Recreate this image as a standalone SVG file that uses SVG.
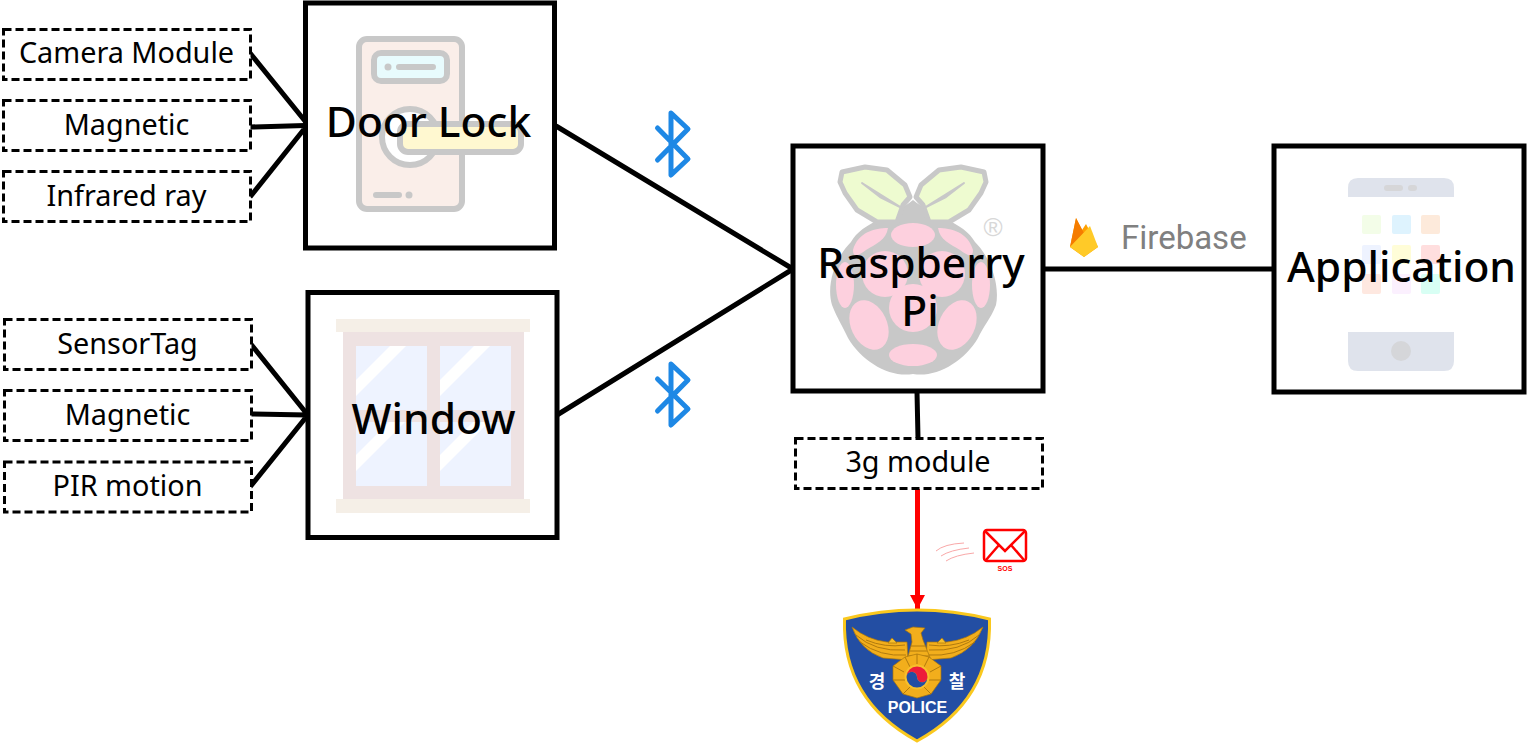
<svg xmlns="http://www.w3.org/2000/svg" width="1540" height="743" viewBox="0 0 1540 743">
<defs>
<style>
.box{fill:#fff;stroke:#000;stroke-width:5}
.dash{fill:#fff;stroke:#000;stroke-width:3;stroke-dasharray:8 4}
.big{font-family:"Noto Sans","Open Sans",sans-serif;font-size:42.500px;font-weight:500;text-anchor:middle;fill:#000}
.small{font-family:"Noto Sans","Open Sans",sans-serif;font-size:28.800px;text-anchor:middle;fill:#000}
.con{stroke:#000;stroke-width:5;fill:none}
.ic{stroke:#c8c8c8;stroke-width:6}
.bt{fill:none;stroke:#1e88e5;stroke-width:5;stroke-linecap:round;stroke-linejoin:round}
.pk{fill:#fdd0de}
.wh{fill:#fff}
.lf{fill:#eefbd0;stroke:#c8c8c8;stroke-width:5;stroke-linejoin:round}
.fe{fill:none;stroke:#a8740c;stroke-width:.9}
.gd{fill:#f2ae1c;stroke:#a8740c;stroke-width:.7}
.kr{font-family:"Noto Sans CJK KR",sans-serif;font-size:18px;font-weight:700;fill:#fff;text-anchor:middle}
</style>
<marker id="ah" markerUnits="userSpaceOnUse" markerWidth="16" markerHeight="16" refX="14" refY="8" orient="auto"><path d="M0 .5L14 8L0 15.500Z" fill="#f00"/></marker>
</defs>
<rect width="1540" height="743" fill="#fff"/>
<g id="connectors">
<path class="con" d="M250 53L305 121M250 127L305 125.500M250 197L305 128"/>
<path class="con" d="M250 343L307 414M250 414L307 415M250 487L307 416"/>
<path class="con" d="M556 126L793 269M557 415L793 269M1043 269H1274M917 392L918 438"/>
<path d="M917.500 489V609" stroke="#f00" stroke-width="5" fill="none" marker-end="url(#ah)"/>
</g>
<g id="door-lock">
<rect class="box" x="305.500" y="3" width="249" height="245"/>
<rect class="ic" x="359" y="39" width="103" height="170" rx="8" fill="#faeee9"/>
<rect class="ic" x="374" y="53" width="73" height="28" rx="7" fill="#e8fbfd"/>
<circle cx="388" cy="67" r="3.500" fill="#c8c8c8"/>
<path d="M399 67H433M376 195H399" stroke="#c8c8c8" stroke-width="6" stroke-linecap="round"/>
<circle cx="409" cy="195" r="3.500" fill="#c8c8c8"/>
<circle class="ic" cx="410" cy="137" r="28" fill="#fff"/>
<rect class="ic" x="400" y="124" width="121" height="28" rx="8" fill="#fff8d0"/>
<text class="big" x="428.500" y="137">Door Lock</text>
</g>
<g id="window">
<rect class="box" x="308" y="292.500" width="249" height="245"/>
<rect x="336" y="319" width="194" height="13" fill="#f5efe7"/>
<rect x="336" y="499" width="194" height="14" fill="#f5efe7"/>
<rect x="343" y="332" width="181" height="167" fill="#eee2e2"/>
<path fill="#eef3ff" d="M356 346h71v64h-71zM440 346h71v64h-71zM356 422h71v64h-71zM440 422h71v64h-71z"/>
<path class="wh" d="M356 380L390 346H406L356 396ZM440 380L474 346H490L440 396ZM356 455L389 422H405L356 471ZM440 455L473 422H489L440 471Z"/>
<text class="big" x="433.500" y="434">Window</text>
</g>
<g id="raspberry-pi">
<rect class="box" x="793" y="146" width="250" height="245"/>
<path d="M913 200C895 215 862 222 851 242C835 258 826 285 832 305C838 320 842 325 848 338C862 362 890 378 913 374C936 378 964 362 978 338C984 325 990 320 996 305C1000 285 991 258 975 242C964 222 931 215 913 200Z" fill="#c8c8c8"/>
<path class="lf" d="M842 172L865 167L887 170L905 185L910 197L903 205L897 222L877 222L857 210L845 193L840 182Z"/>
<path class="lf" d="M984 172L961 167L939 170L921 185L916 197L923 205L929 222L949 222L969 210L981 193L986 182Z"/>
<path d="M862 183L902 208L880 197ZM964 183L924 208L946 197Z" fill="#c8c8c8" stroke="#c8c8c8" stroke-width="2" stroke-linejoin="round"/>
<ellipse class="pk" cx="913" cy="235" rx="22" ry="12"/>
<path class="pk" d="M888 228C875 228 858 232 853 250C853 258 858 256 866 250C876 244 886 240 888 228Z"/>
<path class="pk" d="M938 228C951 228 968 232 973 250C973 258 968 256 960 250C950 244 940 240 938 228Z"/>
<circle class="pk" cx="885" cy="274" r="23"/>
<circle class="pk" cx="942" cy="274" r="23"/>
<ellipse class="pk" cx="845" cy="285" rx="9" ry="23"/>
<ellipse class="pk" cx="981" cy="285" rx="9" ry="23"/>
<circle class="pk" cx="913" cy="308" r="24"/>
<ellipse class="pk" cx="869" cy="325" rx="18" ry="26" transform="rotate(-25 869 325)"/>
<ellipse class="pk" cx="957" cy="325" rx="18" ry="26" transform="rotate(25 957 325)"/>
<ellipse class="pk" cx="913" cy="355" rx="24" ry="11"/>
<text x="993" y="236" font-family="Liberation Sans,sans-serif" font-size="26" fill="#d8d8d8" text-anchor="middle">®</text>
<text class="big" text-anchor="middle"><tspan x="921" y="278">Raspberry</tspan><tspan x="920" y="326">Pi</tspan></text>
</g>
<g id="application">
<rect class="box" x="1274" y="146" width="250" height="246"/>
<path fill="#dfe3ec" d="M1348 197V188Q1348 178 1358 178H1444Q1454 178 1454 188V197ZM1348 332H1454V361Q1454 371 1444 371H1358Q1348 371 1348 361Z"/>
<rect x="1384" y="185" width="19" height="6" rx="3" fill="#d6d6d8"/>
<rect x="1408" y="185" width="9" height="6" rx="3" fill="#d6d6d8"/>
<circle cx="1401" cy="351" r="10" fill="#d5d6d9"/>
<g>
<rect x="1362" y="215" width="19" height="19" rx="2" fill="#f3fde8"/><rect x="1392" y="215" width="19" height="19" rx="2" fill="#def3fe"/><rect x="1421" y="215" width="19" height="19" rx="2" fill="#fdeadb"/>
<rect x="1362" y="245" width="19" height="19" rx="2" fill="#eef3ff"/><rect x="1392" y="245" width="19" height="19" rx="2" fill="#fffdd8"/><rect x="1421" y="245" width="19" height="19" rx="2" fill="#ffdede"/>
<rect x="1362" y="274" width="19" height="20" rx="2" fill="#fee8e0"/><rect x="1392" y="274" width="19" height="20" rx="2" fill="#fbf0fe"/><rect x="1421" y="274" width="19" height="20" rx="2" fill="#d8fff4"/>
</g>
<text class="big" x="1401.500" y="282">Application</text>
</g>
<g id="camera-module"><rect class="dash" x="3.500" y="29.500" width="247" height="50"/><text class="small" x="126.500" y="63">Camera Module</text></g>
<g id="magnetic-1"><rect class="dash" x="3.500" y="100.500" width="247" height="50"/><text class="small" x="126.500" y="135">Magnetic</text></g>
<g id="infrared-ray"><rect class="dash" x="3.500" y="171.500" width="247" height="50"/><text class="small" x="126.500" y="206">Infrared ray</text></g>
<g id="sensortag"><rect class="dash" x="4.500" y="319.500" width="247" height="50"/><text class="small" x="127.500" y="354">SensorTag</text></g>
<g id="magnetic-2"><rect class="dash" x="4.500" y="390.500" width="247" height="50"/><text class="small" x="127.500" y="425">Magnetic</text></g>
<g id="pir-motion"><rect class="dash" x="4.500" y="462" width="247" height="50"/><text class="small" x="127.500" y="496">PIR motion</text></g>
<g id="module-3g"><rect class="dash" x="795.500" y="438.500" width="247" height="50"/><text class="small" x="918" y="472">3g module</text></g>
<g id="bluetooth-1"><path class="bt" d="M657.500 128L688 159L671 175V113L688 129L657.500 160"/></g>
<g id="bluetooth-2"><path class="bt" d="M657.500 379L688 409L671 425V364L688 380L657.500 411"/></g>
<g id="firebase">
<path d="M1070 247L1076 218L1082 230L1086 224L1098 247L1084 257Z" fill="#ffa000"/>
<path d="M1070 247L1076 218L1084 233Z" fill="#f57c00"/>
<path d="M1070 247L1090 226L1098 247L1084 257Z" fill="#ffca28"/>
<text x="1121" y="248.500" font-family="Roboto,Noto Sans,sans-serif" font-size="33" fill="#808080">Firebase</text>
</g>
<g id="sos-mail">
<rect x="984" y="530" width="42" height="31" rx="3" fill="#fff" stroke="#f00" stroke-width="2.500"/>
<path d="M985 531L1005 551L1025 531M986 560L999 545M1024 560L1011 545" fill="none" stroke="#f00" stroke-width="2.500"/>
<text x="1005" y="571" font-family="Liberation Sans,sans-serif" font-size="7" font-weight="700" fill="#f00" text-anchor="middle">SOS</text>
<path d="M936 551Q944 544 964 543M941 556Q950 550 969 548M946 561Q955 555 974 553" fill="none" stroke="#f9a8a8" stroke-width="1"/>
</g>
<g id="police">
<path d="M844.500 619Q917 601 989.500 619Q992 700 917 741Q842 700 844.500 619Z" fill="#234ea3" stroke="#fac81e" stroke-width="3"/>
<path class="gd" d="M852 627Q868 640 887 642H907L908 660L883 658Q860 650 852 627Z"/>
<path class="gd" d="M983 627Q967 640 947 642H927L926 660L951 658Q974 650 983 627Z"/>
<path class="fe" d="M856 635Q875 652 905 650M860 642Q880 657 906 655M866 640Q885 648 905 645M979 635Q960 652 929 650M975 642Q955 657 928 655M969 640Q950 648 929 645"/>
<path d="M888 643L892 638L897 643ZM946 643L942 638L937 643Z" fill="#f7c02c" stroke="#a8740c" stroke-width=".7"/>
<path class="gd" d="M905 630L913 627L925 628L921 633L923 640L931 660H907L912 642L911 634Z"/>
<path class="fe" d="M911 646H925M910 651H927M909 656H929"/>
<path class="gd" d="M917 654L929 657L941 666L941 680L931 694L917 698L903 694L893 680L893 666L905 657Z" fill="#f7b81f"/>
<path class="fe" d="M917 654V664M929 657L924 667M941 666L930 672M941 680L929 680M931 694L924 687M903 694L910 687M893 680L905 680M893 666L904 672M905 657L910 667"/>
<circle cx="917" cy="677" r="12.500" fill="#f7c02c"/>
<path d="M906.500 677A10.500 10.500 0 0 1 927.500 677A5.250 5.250 0 0 1 917 677A5.250 5.250 0 0 0 906.500 677Z" fill="#ed1c3a"/>
<path d="M906.500 677A10.500 10.500 0 0 0 927.500 677A5.250 5.250 0 0 1 917 677A5.250 5.250 0 0 0 906.500 677Z" fill="#234ea3"/>
<text class="kr" x="877" y="688">경</text>
<text class="kr" x="957" y="688">찰</text>
<text x="917.500" y="713" font-family="Liberation Sans,sans-serif" font-size="16" font-weight="700" fill="#fff" text-anchor="middle">POLICE</text>
</g>
</svg>
